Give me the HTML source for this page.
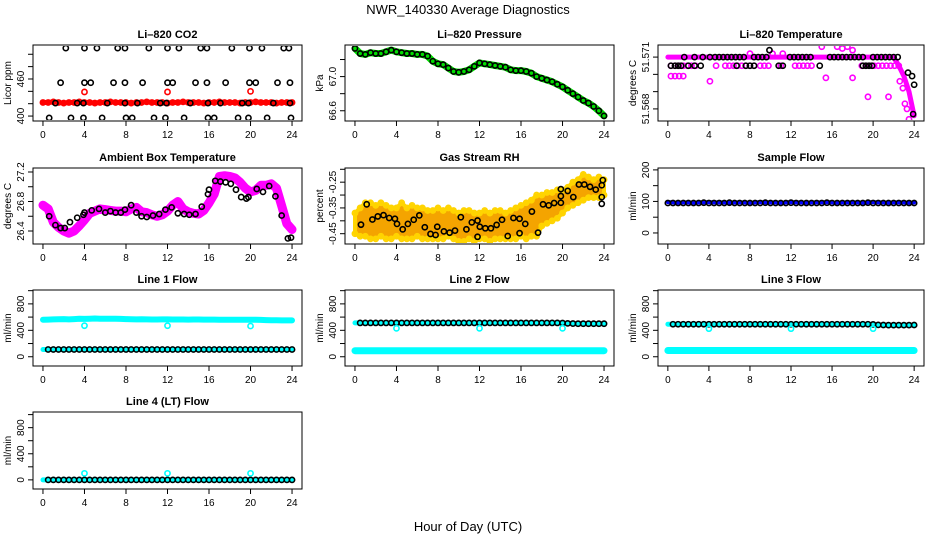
<!DOCTYPE html>
<html><head><meta charset="utf-8">
<style>
html,body{margin:0;padding:0;background:#fff;}
svg{display:block;font-family:"Liberation Sans",sans-serif;}
</style></head>
<body>
<svg id="chart" width="936" height="540" viewBox="0 0 936 540" xmlns="http://www.w3.org/2000/svg">
<text x="468" y="14" text-anchor="middle" font-size="13">NWR_140330  Average Diagnostics</text>
<text x="468" y="531" text-anchor="middle" font-size="13">Hour of Day (UTC)</text>
</svg>
<script>
// ---- data ----
const hourTicks=[0,4,8,12,16,20,24];
const H=[];for(let i=0;i<=48;i++)H.push(i/2);
// CO2
const co2Red=[422,422,423,422,421,422,422,423,422,422,421,422,422,423,422,422,422,421,422,422,423,422,422,422,421,422,422,423,422,422,422,421,422,422,423,422,422,422,421,422,422,423,422,422,422,421,422,422,422];
const co2RedOutHours=[4,12,20];
const co2RedOutVals=[439,439,440];
const co2BlackHours=[2.2,4.0,5.2,7.2,7.9,10.2,12.0,13.1,15.2,15.8,18.2,19.9,21.1,23.2,23.7,1.7,4.0,4.6,6.8,7.9,9.6,12.0,12.5,14.7,15.8,17.6,19.9,20.5,22.6,23.8,1.2,3.3,3.9,6.2,7.9,9.1,11.3,11.9,14.2,15.9,17.1,19.2,19.8,22.2,23.8,0.6,2.7,3.9,5.7,8.0,8.6,10.7,11.8,13.6,15.9,16.5,18.8,19.8,21.6,23.9];
const co2BlackVals=[510,510,510,510,510,510,510,510,510,510,510,510,510,510,510,454,454,454,454,454,454,454,454,454,454,454,454,454,454,454,421,421,421,421,421,421,421,421,421,421,421,421,421,421,421,397,397,397,397,397,397,397,397,397,397,397,397,397,397,397];
// Pressure
const pressVals=[67.33,67.27,67.26,67.28,67.27,67.27,67.29,67.31,67.29,67.28,67.27,67.27,67.26,67.26,67.24,67.18,67.15,67.14,67.10,67.06,67.05,67.06,67.08,67.12,67.16,67.15,67.14,67.13,67.12,67.11,67.08,67.07,67.07,67.06,67.04,67.00,66.98,66.96,66.94,66.91,66.88,66.84,66.80,66.76,66.72,66.69,66.65,66.60,66.54];
// Li-820 temperature
const tempTop=[51.571,51.571,51.571,51.571,51.571,51.571,51.571,51.571,51.571,51.571,51.571,51.571,51.571,51.571,51.571,51.571,51.571,51.571,51.571,51.571,51.571,51.571,51.571,51.571,51.571,51.571,51.571,51.571,51.571,51.571,51.571,51.571,51.571,51.571,51.571,51.571,51.571,51.571,51.571,51.571,51.571,51.571,51.571,51.571,51.571,51.5705,51.5699,51.5690,51.5676];
const tempMagHours=[0.3,0.7,1.1,1.5,1.9,2.3,2.7,4.7,5.6,6.0,6.4,6.8,7.2,7.6,8.0,8.4,9.0,9.4,9.8,11.0,12.4,12.8,13.2,13.6,14.0,18.9,19.3,19.7,20.1,20.5,20.9,21.3,21.7,22.1,22.5,0.3,0.7,1.1,1.5,4.1,15.4,18.0,19.5,21.5,15.0,16.5,17.0,17.5,18.0,8.0,10.2,11.2,22.6,22.9,23.1,23.3,23.5];
const tempMagVals=[51.5705,51.5705,51.5705,51.5705,51.5705,51.5705,51.5705,51.5705,51.5705,51.5705,51.5705,51.5705,51.5705,51.5705,51.5705,51.5705,51.5705,51.5705,51.5705,51.5705,51.5705,51.5705,51.5705,51.5705,51.5705,51.5705,51.5705,51.5705,51.5705,51.5705,51.5705,51.5705,51.5705,51.5705,51.5705,51.5699,51.5699,51.5699,51.5699,51.5696,51.5698,51.5698,51.5687,51.5687,51.5716,51.5716,51.5715,51.5716,51.5714,51.5712,51.5712,51.5712,51.5696,51.5692,51.5683,51.5680,51.5674];
const tempBlackHours=[1.6,2.6,3.4,4.1,4.6,5.0,5.4,5.8,6.2,6.6,7.0,7.4,8.4,8.8,9.2,9.6,9.9,11.9,12.3,12.7,13.1,13.5,13.9,15.8,16.2,16.6,17.0,17.4,17.8,18.2,18.6,19.0,20.0,20.4,20.8,21.2,21.6,22.0,22.4,0.3,0.7,1.0,1.3,2.0,2.6,3.2,6.7,7.6,8.0,8.4,10.8,11.2,14.8,19.0,19.3,19.6,19.9,23.4,23.8,24.0,23.9];
const tempBlackVals=[51.571,51.571,51.571,51.571,51.571,51.571,51.571,51.571,51.571,51.571,51.571,51.571,51.571,51.571,51.571,51.571,51.5714,51.571,51.571,51.571,51.571,51.571,51.571,51.571,51.571,51.571,51.571,51.571,51.571,51.571,51.571,51.571,51.571,51.571,51.571,51.571,51.571,51.571,51.571,51.5705,51.5705,51.5705,51.5705,51.5705,51.5705,51.5705,51.5705,51.5705,51.5705,51.5705,51.5705,51.5705,51.5705,51.5705,51.5705,51.5705,51.5705,51.5701,51.5699,51.5694,51.5677];
// Ambient box temp
const ambVals=[26.75,26.70,26.52,26.45,26.40,26.37,26.40,26.47,26.55,26.64,26.67,26.70,26.69,26.68,26.67,26.67,26.66,26.70,26.72,26.66,26.65,26.62,26.60,26.62,26.67,26.75,26.80,26.70,26.66,26.64,26.63,26.68,26.78,26.90,27.14,27.15,27.14,27.12,27.06,26.98,26.93,26.95,27.02,27.02,27.04,26.98,26.74,26.50,26.42];
const ambBlackHours=[0.6,1.2,1.7,2.1,2.6,3.3,3.9,4.0,4.7,5.4,6.0,6.5,7.0,7.5,7.9,8.5,9.0,9.5,10.0,10.6,11.2,11.8,12.4,13.0,13.6,14.1,14.7,15.3,15.9,16.0,16.6,17.1,17.6,18.1,18.6,19.1,19.6,19.8,20.6,21.2,21.8,22.4,23.0,23.6,23.9];
const ambBlackVals=[26.60,26.48,26.44,26.44,26.52,26.58,26.62,26.65,26.68,26.70,26.65,26.67,26.65,26.65,26.69,26.75,26.65,26.60,26.59,26.61,26.63,26.69,26.72,26.64,26.63,26.62,26.63,26.73,26.90,26.96,27.08,27.07,27.06,27.04,26.96,26.86,26.84,26.86,26.97,26.93,27.01,26.87,26.61,26.30,26.31];
// Gas stream RH
const rhUpper=[-0.37,-0.35,-0.33,-0.33,-0.34,-0.33,-0.34,-0.35,-0.35,-0.33,-0.35,-0.34,-0.35,-0.35,-0.36,-0.36,-0.35,-0.36,-0.35,-0.36,-0.37,-0.36,-0.36,-0.37,-0.37,-0.36,-0.37,-0.36,-0.36,-0.37,-0.36,-0.35,-0.34,-0.33,-0.32,-0.30,-0.30,-0.29,-0.29,-0.28,-0.28,-0.27,-0.25,-0.24,-0.22,-0.23,-0.24,-0.23,-0.24];
const rhLower=[-0.45,-0.46,-0.46,-0.47,-0.47,-0.46,-0.47,-0.47,-0.46,-0.47,-0.47,-0.47,-0.46,-0.47,-0.47,-0.47,-0.47,-0.47,-0.46,-0.47,-0.48,-0.48,-0.47,-0.48,-0.47,-0.47,-0.48,-0.47,-0.47,-0.47,-0.47,-0.47,-0.46,-0.47,-0.46,-0.46,-0.42,-0.41,-0.40,-0.39,-0.37,-0.35,-0.34,-0.33,-0.32,-0.31,-0.31,-0.31,-0.30];
const rhBlackHours=[0.58,1.13,1.68,2.2,2.75,3.3,3.85,4.05,4.6,5.1,5.66,6.2,6.73,7.28,7.77,7.93,8.57,9.12,9.64,10.2,10.74,11.26,11.81,11.81,12.03,12.56,13.1,13.65,14.17,14.72,15.27,15.86,15.86,16.41,17.05,17.64,18.12,18.67,19.19,19.84,19.84,19.84,20.5,21.04,21.58,22.1,22.65,23.2,23.78,23.78,23.78,23.88];
const rhBlackVals=[-0.415,-0.336,-0.395,-0.383,-0.378,-0.389,-0.392,-0.412,-0.433,-0.412,-0.396,-0.379,-0.425,-0.451,-0.455,-0.423,-0.441,-0.446,-0.438,-0.386,-0.433,-0.406,-0.399,-0.462,-0.423,-0.429,-0.429,-0.416,-0.396,-0.459,-0.389,-0.392,-0.448,-0.412,-0.364,-0.446,-0.336,-0.340,-0.331,-0.330,-0.304,-0.277,-0.284,-0.308,-0.259,-0.259,-0.268,-0.279,-0.262,-0.308,-0.334,-0.242];
// Flows
const sampleBlue=[98,97,96,97,97,96,97,97,98,97,97,97,96,97,97,97,96,97,98,97,97,97,96,97,98,97,97,96,97,97,97,98,97,96,97,97,97,97,96,97,98,97,97,96,97,97,97,96,97];
const sampleBlack=[95,95,95,95,95,95,95,96,95,95,95,95,96,95,95,95,95,95,95,96,95,95,95,95,96,95,95,95,95,95,95,96,95,95,95,95,95,95,95,96,95,95,95,95,95,95,95,95,95];
const line1Cyan=[560,562,565,568,570,565,570,575,572,575,578,575,575,574,576,572,570,568,565,566,565,564,564,565,565,564,563,563,562,563,563,562,562,562,561,561,561,560,560,560,560,560,557,555,552,552,550,550,550];
const line1Black=[110,110,110,110,110,110,110,110,110,110,110,110,110,110,110,110,110,110,110,110,110,110,110,110,110,110,110,110,110,110,110,110,110,110,110,110,110,110,110,110,110,110,110,110,110,110,110,110,110];
const line1OutVals=[470,470,465];
const line2Cyan=[92,92,92,92,92,92,92,92,92,92,92,92,92,92,92,92,92,92,92,92,92,92,92,92,92,92,92,92,92,92,92,92,92,92,92,92,92,92,92,92,92,92,92,92,92,92,92,92,92];
const line2Black=[512,512,512,512,512,512,512,512,512,512,512,512,512,512,512,512,512,512,512,512,512,512,512,512,512,512,512,512,512,512,512,512,512,512,512,512,512,512,512,512,510,505,502,500,500,500,500,500,500];
const line2OutVals=[430,430,430];
const line3Cyan=[95,95,95,95,95,95,95,95,95,95,95,95,95,95,95,95,95,95,95,95,95,95,95,95,95,95,95,95,95,95,95,95,95,95,95,95,95,95,95,95,95,95,95,95,95,95,95,95,95];
const line3Black=[492,492,492,492,492,492,492,492,492,492,492,492,492,492,492,492,492,492,492,492,492,492,492,492,492,492,492,492,492,492,492,492,492,492,492,492,492,492,492,492,490,482,480,478,478,478,478,478,480];
const line3OutVals=[425,425,425];
const line4Vals=[0,0,0,0,0,0,0,0,0,0,0,0,0,0,0,0,0,0,0,0,0,0,0,0,0,0,0,0,0,0,0,0,0,0,0,0,0,0,0,0,0,0,0,0,0,0,0,0,0];
const line4OutVals=[100,100,100];
const outHours=[4,12,20];

// ---- layout ----
const NS="http://www.w3.org/2000/svg";
const svg=document.getElementById('chart');
const colL=[33,345,658],colR=[302,614,924];
const rowT=[45,168,290,412],rowB=[121,244,366,489];
function mk(tag,attrs,parent){const e=document.createElementNS(NS,tag);for(const k in attrs)e.setAttribute(k,attrs[k]);(parent||svg).appendChild(e);return e;}

function panel(col,row,name,title,ylab,ymin,ymax,ticks,labels){
  const g=mk('g',{});
  
  
  const L=colL[col],R=colR[col],T=rowT[row],B=rowB[row];
  const w=R-L;const s=w/25.92;const x0=L+0.96*s;
  const x=h=>x0+h*s;
  const y=v=>B-(v-ymin)/(ymax-ymin)*(B-T);
  const box=mk('rect',{x:L,y:T,width:w,height:B-T,fill:'none',stroke:'#000','stroke-width':1},g);
  
  
  const tt=mk('text',{x:(L+R)/2,y:T-7,'text-anchor':'middle','font-size':11,'font-weight':'bold'},g);
  tt.textContent=title;
  
  
  const yl=mk('text',{transform:`translate(${L-22},${(T+B)/2}) rotate(-90)`,'text-anchor':'middle','font-size':10},g);
  yl.textContent=ylab;
  
  
  hourTicks.forEach(h=>{
    const tk=mk('line',{x1:x(h),x2:x(h),y1:B,y2:B+5,stroke:'#000'},g);
    
    
    const lb=mk('text',{x:x(h),y:B+17,'text-anchor':'middle','font-size':10},g);
    lb.textContent=h;
    
    
  });
  ticks.forEach((v,i)=>{
    const tk=mk('line',{x1:L-5,x2:L,y1:y(v),y2:y(v),stroke:'#000'},g);
    
    
    if(labels[i]!==''){
      const lb=mk('text',{transform:`translate(${L-9},${y(v)}) rotate(-90)`,'text-anchor':'middle','font-size':10},g);
      lb.textContent=labels[i];
      
      
    }
  });
  const clip='clip'+col+row;
  const cp=mk('clipPath',{id:clip},g);mk('rect',{x:L+1,y:T+1,width:w-2,height:B-T-2},cp);
  const pg=mk('g',{'clip-path':`url(#${clip})`},g);
  return {x,y,g:pg};
}
function pts(p,hs,vs,color,name,r,sw){
  vs.forEach((v,i)=>{
    const c=mk('circle',{cx:p.x(hs[i]),cy:p.y(v),r:r||2.6,fill:'none',stroke:color,'stroke-width':sw||1.6},p.g);
    
    
  });
}
function band(p,hs,vs,color,name,width){
  const d=vs.map((v,i)=>(i?'L':'M')+p.x(hs[i]).toFixed(1)+','+p.y(v).toFixed(1)).join('');
  const pa=mk('path',{d,fill:'none',stroke:color,'stroke-width':width,'stroke-linecap':'round','stroke-linejoin':'round'},p.g);
  
  
}
const flowTicks=[0,200,400,600,800,1000],flowLabels=['0','','400','','800',''];

// CO2
let p=panel(0,0,'co2','Li\u2013820 CO2','Licor ppm',392,515,[400,420,440,460,480,500],['400','','','460','','']);
band(p,H,co2Red,'#ff0000','co2-red-band',5);
pts(p,H,co2Red,'#ff0000','co2-red-point');
pts(p,co2RedOutHours,co2RedOutVals,'#ff0000','co2-red-outlier');
pts(p,co2BlackHours,co2BlackVals,'#000','co2-black-point');
// Pressure
p=panel(1,0,'pressure','Li\u2013820 Pressure','kPa',66.48,67.37,[66.6,66.8,67.0,67.2],['66.6','','67.0','']);
band(p,H,pressVals,'#00dd00','pressure-green-band',7);
pts(p,H,pressVals,'#000','pressure-black-point');
// Temperature
p=panel(2,0,'li820-temp','Li\u2013820 Temperature','degrees C',51.5673,51.5717,[51.568,51.569,51.570,51.571],['51.568','','','51.571']);
band(p,H,tempTop,'#ff00ff','temp-magenta-band',5);
pts(p,tempMagHours,tempMagVals,'#ff00ff','temp-magenta-point');
pts(p,tempBlackHours,tempBlackVals,'#000','temp-black-point');
// Ambient
p=panel(0,1,'ambient','Ambient Box Temperature','degrees C',26.224,27.254,[26.4,26.6,26.8,27.0,27.2],['26.4','','26.8','','27.2']);
band(p,H,ambVals,'#ff00ff','ambient-magenta-band',9);
pts(p,ambBlackHours,ambBlackVals,'#000','ambient-black-point');
// RH
p=panel(1,1,'rh','Gas Stream RH','percent',-0.49,-0.195,[-0.45,-0.40,-0.35,-0.30,-0.25,-0.20],['-0.45','','-0.35','','-0.25','']);
{
  const d=rhUpper.map((v,i)=>(i?'L':'M')+p.x(H[i]).toFixed(1)+','+p.y(v).toFixed(1)).join('')+
    rhLower.slice().reverse().map((v,j)=>{const i=rhLower.length-1-j;return 'L'+p.x(H[i]).toFixed(1)+','+p.y(v).toFixed(1);}).join('')+'Z';
  const a=mk('path',{d,fill:'#f4a400',stroke:'#ffd400','stroke-width':4,'stroke-linejoin':'round'},p.g);
  
  
}
pts(p,H,rhUpper,'#ffd400','rh-upper-point');
pts(p,H,rhLower,'#ffd400','rh-lower-point');
pts(p,rhBlackHours,rhBlackVals,'#000','rh-black-point');
// Sample flow
p=panel(2,1,'sample-flow','Sample Flow','ml/min',-35,206,[0,50,100,150,200],['0','','100','','200']);
band(p,H,sampleBlue,'#0000ff','sample-blue-band',4);
pts(p,H,sampleBlack,'#000','sample-black-point');
// Line 1
p=panel(0,2,'line1-flow','Line 1 Flow','ml/min',-140,1010,flowTicks,flowLabels);
band(p,H,line1Cyan,'#00ffff','line1-cyan-band',6);
band(p,H,line1Black,'#00ffff','line1-cyan-low-band',5);
pts(p,H.slice(1),line1Black.slice(1),'#000','line1-black-point');
pts(p,outHours,line1OutVals,'#00ffff','line1-cyan-outlier');
// Line 2
p=panel(1,2,'line2-flow','Line 2 Flow','ml/min',-140,1010,flowTicks,flowLabels);
band(p,H,line2Cyan,'#00ffff','line2-cyan-band',7);
band(p,H,line2Black,'#00ffff','line2-cyan-high-band',5);
pts(p,H.slice(1),line2Black.slice(1),'#000','line2-black-point');
pts(p,outHours,line2OutVals,'#00ffff','line2-cyan-outlier');
// Line 3
p=panel(2,2,'line3-flow','Line 3 Flow','ml/min',-140,1010,flowTicks,flowLabels);
band(p,H,line3Cyan,'#00ffff','line3-cyan-band',7);
band(p,H,line3Black,'#00ffff','line3-cyan-high-band',5);
pts(p,H.slice(1),line3Black.slice(1),'#000','line3-black-point');
pts(p,outHours,line3OutVals,'#00ffff','line3-cyan-outlier');
// Line 4
p=panel(0,3,'line4-flow','Line 4 (LT) Flow','ml/min',-140,1040,flowTicks,flowLabels);
band(p,H,line4Vals,'#00ffff','line4-cyan-band',5);
pts(p,H.slice(1),line4Vals.slice(1),'#000','line4-black-point');
pts(p,outHours,line4OutVals,'#00ffff','line4-cyan-outlier');
</script>
</body></html>
